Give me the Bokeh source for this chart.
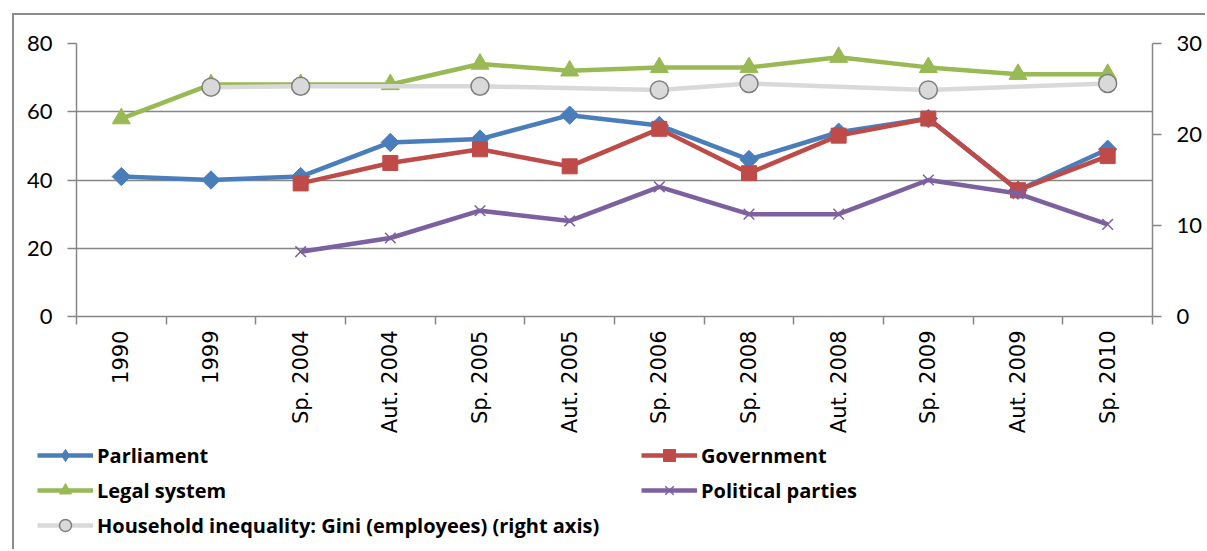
import numpy as np
from bokeh.plotting import figure
from bokeh.models import (Range1d, LinearAxis, FixedTicker, Legend, LegendItem,
                          ColumnDataSource)
from bokeh.embed import file_html
from bokeh.resources import INLINE

categories = ["1990", "1999", "Sp. 2004", "Aut. 2004", "Sp. 2005", "Aut. 2005",
              "Sp. 2006", "Sp. 2008", "Aut. 2008", "Sp. 2009", "Aut. 2009", "Sp. 2010"]
parliament = [41, 40, 41, 51, 52, 59, 56, 46, 54, 58, 37, 49]
government = [None, None, 39, 45, 49, 44, 55, 42, 53, 58, 37, 47]
legal_system = [58, 68, 68, 68, 74, 72, 73, 73, 76, 73, 71, 71]
political_parties = [None, None, 19, 23, 31, 28, 38, 30, 30, 40, 36, 27]
gini = [None, 25.2, 25.3, None, 25.3, None, 24.9, 25.6, None, 24.9, None, 25.6]

left_ticks = [0, 20, 40, 60, 80]
right_ticks = [0, 10, 20, 30]

OX, OY, BW = 12, 13, 2
CX, CY = OX + BW, OY + BW          # content origin in the window
SPLIT = 440                        # window y where the legend strip starts
W = 1207 - CX
H1 = SPLIT - CY
H2 = 551 - SPLIT
BORDER = f"{BW}px solid #8C8C8C"

p = figure(width=W, height=H1, output_backend="svg", toolbar_location=None,
           x_range=Range1d(-0.5, len(categories) - 0.5), y_range=Range1d(0, 80),
           min_border_left=76 - CX, min_border_right=1207 - 1152,
           min_border_top=43 - CY, min_border_bottom=SPLIT - 316)
p.styles = {"border-left": BORDER, "border-top": BORDER,
            "margin-left": f"{OX}px", "margin-top": f"{OY}px"}
p.outline_line_color = None
p.background_fill_color = "white"
p.border_fill_color = "white"
p.extra_y_ranges = {"right": Range1d(0, 30)}

xs = list(range(len(categories)))

grid_col = "#868686"
p.xaxis.ticker = FixedTicker(ticks=xs, minor_ticks=[i - 0.5 for i in range(len(categories) + 1)])
p.xaxis.major_label_overrides = {i: c for i, c in enumerate(categories)}
p.xaxis.major_tick_out = 0
p.xaxis.major_tick_in = 0
p.xaxis.minor_tick_out = 8
p.xaxis.minor_tick_in = 0
p.xaxis.minor_tick_line_color = grid_col
p.xaxis.minor_tick_line_width = 1.5
p.xaxis.axis_line_color = grid_col
p.xaxis.axis_line_width = 1.5
p.xaxis.major_label_orientation = np.pi / 2
p.xaxis.major_label_text_font = "DejaVu Sans"
p.xaxis.major_label_text_font_size = "21px"
p.xaxis.major_label_text_color = "black"
p.xaxis.major_label_standoff = 6

def style_y(ax):
    ax.major_tick_out = 9
    ax.major_tick_in = 0
    ax.minor_tick_out = 0
    ax.minor_tick_in = 0
    ax.major_tick_line_color = grid_col
    ax.major_tick_line_width = 1.5
    ax.axis_line_color = grid_col
    ax.axis_line_width = 1.5
    ax.major_label_text_font = "Lato"
    ax.major_label_text_font_size = "22px"
    ax.major_label_text_color = "black"
    ax.major_label_standoff = 15

ya = p.yaxis[0]
ya.ticker = FixedTicker(ticks=left_ticks)
style_y(ya)

ra = LinearAxis(y_range_name="right", ticker=FixedTicker(ticks=right_ticks))
style_y(ra)
p.add_layout(ra, "right")

p.xgrid.grid_line_color = None
p.ygrid.ticker = FixedTicker(ticks=left_ticks)
p.ygrid.grid_line_color = grid_col
p.ygrid.grid_line_width = 1.5

def nz(vals):
    x = [i for i, v in enumerate(vals) if v is not None]
    y = [v for v in vals if v is not None]
    return ColumnDataSource(dict(x=x, y=y))

blue, red, green, purple = "#4A7EBB", "#BE4B48", "#98B954", "#7D60A0"
gline, gedge = "#D9D9D9", "#7F7F7F"

series = {
    "Parliament": (parliament, blue, dict(marker="square", angle=np.pi / 4, size=13, fill_color=blue, line_color=blue), "default"),
    "Government": (government, red, dict(marker="square", size=15, fill_color=red, line_color=red), "default"),
    "Legal system": (legal_system, green, dict(marker="triangle", size=18, fill_color=green, line_color=green), "default"),
    "Political parties": (political_parties, purple, dict(marker="x", size=15, line_color=purple, line_width=1.5), "default"),
    "Household inequality: Gini (employees) (right axis)": (gini, gline, dict(marker="circle", size=18, fill_color=gline, line_color=gedge, line_width=1.5), "right"),
}

sources = {}
for name, (vals, col, mk, yr) in series.items():
    s = nz(vals)
    sources[name] = s
    p.line("x", "y", source=s, line_color=col, line_width=4.5, y_range_name=yr)
    p.scatter("x", "y", source=s, y_range_name=yr, **mk)

# legend strip (its own root, so that its frame is not aligned with the chart's)
lf = figure(width=W, height=H2, output_backend="svg", toolbar_location=None,
            x_axis_type=None, y_axis_type=None, min_border=0,
            x_range=Range1d(-100, -99), y_range=Range1d(-100, -99))
lf.styles = {"border-left": BORDER, "margin-left": f"{OX}px"}
lf.outline_line_color = None
lf.grid.visible = False
lf.border_fill_color = "white"
lf.background_fill_color = "white"

items = {}
for name, (vals, col, mk, yr) in series.items():
    s = sources[name]  # same data; lies outside this strip's view, so only the legend shows
    lmk = dict(mk)
    if name == "Parliament":
        lmk = dict(marker="diamond", size=mk["size"], fill_color=blue, line_color=blue)
    r1 = lf.line("x", "y", source=s, line_color=col, line_width=4.5)
    r2 = lf.scatter("x", "y", source=s, **lmk)
    items[name] = LegendItem(label=name, renderers=[r1, r2])

order = ["Parliament", "Legal system", "Household inequality: Gini (employees) (right axis)",
         "Government", "Political parties"]
legend = Legend(items=[items[k] for k in order], orientation="vertical", nrows=3,
                location=(37 - CX, 9))
legend.label_text_font = "Open Sans"
legend.label_text_font_style = "bold"
legend.label_text_font_size = "20px"
legend.label_text_color = "black"
legend.glyph_width = 56
legend.glyph_height = 30
legend.label_height = 30
legend.label_standoff = 4
legend.spacing = 5
legend.padding = 0
legend.margin = 0
legend.border_line_color = None
legend.background_fill_alpha = 0
legend.label_width = 539
lf.add_layout(legend, "center")

open("out.html", "w").write(file_html([p, lf], INLINE))
